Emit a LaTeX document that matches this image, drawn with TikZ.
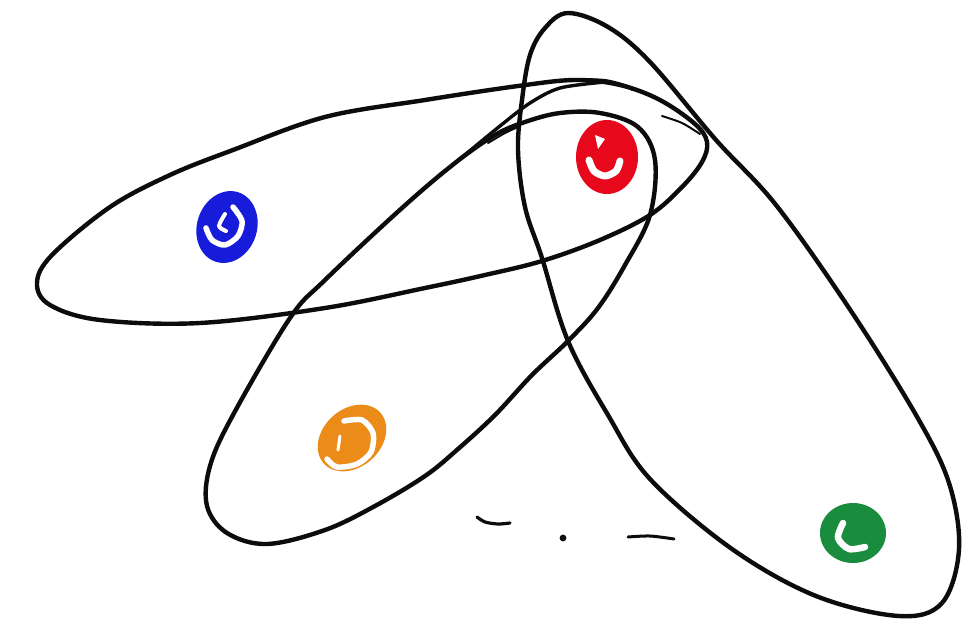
\documentclass[tikz,border=0pt]{standalone}
\usetikzlibrary{shapes.geometric}
\definecolor{inkblack}{RGB}{12,12,12}
\definecolor{dotblue}{RGB}{22,28,218}
\definecolor{dotred}{RGB}{232,8,28}
\definecolor{dotorange}{RGB}{236,140,24}
\definecolor{dotgreen}{RGB}{26,140,62}
\begin{document}
\begin{tikzpicture}[x=1pt,y=-1pt,
  hedge/.style={draw=inkblack, line width=4.4pt, line join=round, line cap=round},
  thinstroke/.style={draw=inkblack, line width=2pt, line cap=round},
  vdot/.style={ellipse, fill=#1, draw=none, inner sep=0pt},
  hole/.style={draw=white, line width=5.5pt, line cap=round, line join=round}]
\useasboundingbox[fill=white] (0,0) rectangle (974,624);

% vertices
\node[vdot=dotblue, minimum width=60pt, minimum height=73pt, rotate=-18] (vb) at (227,227) {};
\node[vdot=dotred, minimum width=62pt, minimum height=74pt] (vr) at (607,157) {};
\node[vdot=dotorange, minimum width=76pt, minimum height=58pt, rotate=42] (vo) at (352,438) {};
\node[vdot=dotgreen, minimum width=66pt, minimum height=60pt] (vg) at (853,533) {};

% white spirals inside the vertices
\draw[hole] plot[smooth] coordinates {(206,228) (212,240) (225,245) (238,236) (242,221) (233,207)};
\draw[hole, line width=4pt] plot[smooth] coordinates {(225,214) (219,226) (226,231)};
\draw[hole, line width=7pt] plot[smooth] coordinates {(589,160) (594,171) (605,176) (616,171) (620,161)};
\fill[white] (595,135) -- (605,139) -- (598,149) -- cycle;
\draw[hole] plot[smooth] coordinates {(344,421) (362,420) (373,433) (371,452) (357,464) (337,467) (327,459)};
\draw[hole, line width=3pt] (340,436) -- (338,450);
\draw[hole, line width=6.5pt] plot[smooth] coordinates {(843,523) (838,538) (849,549) (865,547)};

% hyperedges
\draw[hedge] plot[smooth cycle, tension=0.58] coordinates {
  (37,283) (52,255) (110,207) (170,175) (233,150) (325,117) (425,100) (518,86)
  (575,80) (620,85) (660,100) (695,124) (707,142) (702,162) (682,187) (650,215)
  (600,240) (542,261) (485,275) (425,288) (325,308) (200,323) (100,320) (50,305)};
\draw[hedge] plot[smooth cycle, tension=0.58] coordinates {
  (210,466) (233,415) (290,318) (325,280) (402,208) (455,163) (495,135) (525,122)
  (560,113) (600,113) (638,127) (655,160) (650,215) (625,265) (598,308) (568,341)
  (532,375) (495,415) (458,449) (425,476) (375,506) (325,530) (267,544) (227,533) (207,506)};
\draw[hedge] plot[smooth cycle, tension=0.58] coordinates {
  (568,13) (608,27) (650,62) (716,140) (776,205) (849,308) (916,415) (949,483)
  (959,549) (942,603) (899,616) (816,596) (732,549) (650,479) (608,415) (568,341)
  (542,258) (525,207) (518,150) (522,100) (530,55) (545,28)};

% overshooting strokes
\draw[hedge, line width=3.4pt] plot[smooth] coordinates {(455,163) (500,126) (530,103) (560,88) (605,82)};
\draw[thinstroke] plot[smooth] coordinates {(488,143) (505,133) (518,127)};
\draw[thinstroke] plot[smooth] coordinates {(575,79) (605,80) (628,86) (632,90)};
\draw[thinstroke] plot[smooth] coordinates {(662,116) (682,123) (700,134)};

% marks at the bottom
\draw[hedge, line width=3.2pt] plot[smooth] coordinates {(477,517) (485,522) (498,524) (510,523)};
\fill[inkblack] (563,538) circle[radius=3.4pt];
\draw[hedge, line width=3pt] plot[smooth] coordinates {(628,537) (650,536) (674,539)};
\end{tikzpicture}
\end{document}
